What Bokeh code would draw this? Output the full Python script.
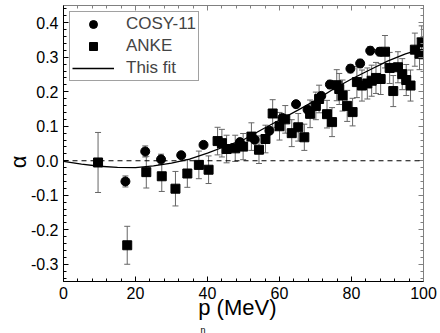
from bokeh.plotting import figure
from bokeh.models import (ColumnDataSource, Whisker, TeeHead, Span, Legend, LegendItem,
                          LinearAxis, SingleIntervalTicker, NumeralTickFormatter, Range1d,
                          CustomLabelingPolicy, Title)
from bokeh.embed import file_html
from bokeh.resources import INLINE

# ---- data ----
cosy_x = [17.2, 22.7, 27.1, 32.7, 38.9, 49.0, 53.1, 57.2, 60.8, 64.6, 67.8, 71.6, 74.0,
          79.7, 82.4, 85.2, 87.8]
cosy_y = [-0.060, 0.027, 0.004, 0.016, 0.046, 0.054, 0.061, 0.087, 0.124, 0.164, 0.148, 0.188,
          0.221, 0.267, 0.282, 0.319, 0.316]
cosy_err = [0.016, 0.016, 0.015, 0.008, 0.010, 0.010, 0.010, 0.010, 0.010, 0.010, 0.010, 0.010,
            0.012, 0.012, 0.012, 0.012, 0.012]

anke_x = [9.6, 17.7, 23.0, 27.3, 31.1, 34.4, 37.6, 40.3, 42.8, 44.0, 45.3, 47.7, 49.9, 52.2,
          54.3, 56.1, 58.1, 60.0, 61.6, 63.4, 65.2, 66.9, 68.5, 70.1, 71.0, 73.2, 74.6, 75.9,
          76.6, 77.5, 78.8, 80.3, 81.5, 82.9, 84.4, 85.6, 86.8, 88.1, 89.3, 90.6, 91.6, 92.9,
          94.1, 95.2, 96.4, 97.6, 98.9, 99.5]
anke_y = [-0.005, -0.245, -0.033, -0.045, -0.081, -0.037, -0.012, -0.026, 0.057, 0.051, 0.034,
          0.036, 0.041, 0.070, 0.032, 0.063, 0.137, 0.100, 0.120, 0.080, 0.097, 0.068, 0.136,
          0.159, 0.179, 0.135, 0.112, 0.219, 0.208, 0.189, 0.159, 0.141, 0.228, 0.218, 0.224,
          0.232, 0.240, 0.237, 0.316, 0.269, 0.202, 0.271, 0.251, 0.234, 0.218, 0.322, 0.310,
          0.343]
anke_err = [0.087, 0.055, 0.046, 0.044, 0.050, 0.040, 0.040, 0.040, 0.040, 0.040, 0.040,
            0.038, 0.038, 0.040, 0.040, 0.040, 0.040, 0.040, 0.040, 0.039, 0.040, 0.038, 0.040,
            0.040, 0.040, 0.040, 0.042, 0.045, 0.045, 0.045, 0.045, 0.040, 0.045, 0.045, 0.045,
            0.045, 0.045, 0.045, 0.047, 0.045, 0.045, 0.045, 0.045, 0.045, 0.045, 0.048, 0.046,
            0.048]

fit_x = [0, 5, 10, 15, 20, 25, 30, 35, 40, 45, 50, 55, 60, 65, 70, 75, 80, 85, 90, 95, 97.5, 100]
fit_y = [-0.002, -0.010, -0.016, -0.019, -0.020, -0.015, -0.007, 0.005, 0.022, 0.042, 0.061,
         0.090, 0.118, 0.146, 0.175, 0.208, 0.237, 0.263, 0.289, 0.310, 0.318, 0.305]

x_tick_step = 20
y_tick_step = 0.1

FONT = "Liberation Sans"
NBSP = "\u00a0"

p = figure(frame_width=360, frame_height=276,
           x_range=Range1d(0, 100), y_range=Range1d(-0.35, 0.45),
           output_backend="svg", toolbar_location=None,
           min_border_left=63, min_border_right=17, min_border_top=5, min_border_bottom=52)
p.xgrid.visible = False
p.ygrid.visible = False
p.outline_line_color = "#808080"
p.background_fill_color = "white"
p.border_fill_color = "white"

# axes
p.xaxis.ticker = SingleIntervalTicker(interval=x_tick_step, num_minor_ticks=5)
p.yaxis.ticker = SingleIntervalTicker(interval=y_tick_step, num_minor_ticks=5)
p.yaxis.formatter = NumeralTickFormatter(format="0.0")
for ax in (p.xaxis[0], p.yaxis[0]):
    ax.axis_line_color = "black"
    ax.major_tick_line_color = "black"
    ax.minor_tick_line_color = "black"
    ax.major_tick_in = 5
    ax.major_tick_out = 0
    ax.minor_tick_in = 3
    ax.minor_tick_out = 0
    ax.major_label_text_font = FONT
    ax.major_label_text_font_size = "16px"
    ax.major_label_text_color = "black"
    ax.axis_label_text_font = FONT
    ax.axis_label_text_font_style = "normal"
    ax.axis_label_text_color = "black"
p.xaxis.major_label_standoff = 5
p.yaxis.major_label_standoff = 5
p.xaxis.axis_label = "p (MeV)" + NBSP * 2
p.xaxis.axis_label_text_font_size = "22px"
p.xaxis.axis_label_standoff = -7
p.yaxis.axis_label = "α" + NBSP * 6
p.yaxis.axis_label_text_font_size = "22px"
p.yaxis.axis_label_standoff = -3

for loc in ("above", "right"):
    ax = LinearAxis(ticker=SingleIntervalTicker(interval=x_tick_step if loc == "above" else y_tick_step,
                                                num_minor_ticks=5))
    ax.axis_line_color = "#808080"
    ax.major_tick_line_color = "#808080"
    ax.minor_tick_line_color = "#808080"
    ax.major_tick_in = 5
    ax.major_tick_out = 0
    ax.minor_tick_in = 3
    ax.minor_tick_out = 0
    ax.major_label_text_font_size = "1px"
    ax.major_label_standoff = 0
    ax.major_label_policy = CustomLabelingPolicy(code="return new Set()")
    p.add_layout(ax, loc)

# subscript eta under the "p" of the x-axis title
p.add_layout(Title(text="η", align="left", offset=137, standoff=0,
                   text_font=FONT, text_font_size="9px", text_font_style="normal",
                   text_color="black"), "below")

# zero line
p.add_layout(Span(location=0, dimension="width", line_color="black",
                  line_width=1, line_dash="5 4"))

# fit curve
fit_r = p.line(fit_x, fit_y, line_color="black", line_width=1.3)

# error bars
cs = ColumnDataSource(dict(x=cosy_x, y=cosy_y,
                           lo=[a - b for a, b in zip(cosy_y, cosy_err)],
                           hi=[a + b for a, b in zip(cosy_y, cosy_err)]))
as_ = ColumnDataSource(dict(x=anke_x, y=anke_y,
                            lo=[a - b for a, b in zip(anke_y, anke_err)],
                            hi=[a + b for a, b in zip(anke_y, anke_err)]))
for src in (as_, cs):
    w = Whisker(base="x", upper="hi", lower="lo", source=src, line_color="#666666",
                line_width=1,
                upper_head=TeeHead(size=6, line_color="#666666", line_width=1),
                lower_head=TeeHead(size=6, line_color="#666666", line_width=1))
    p.add_layout(w)

anke_r = p.scatter("x", "y", source=as_, marker="square", size=9,
                   fill_color="black", line_color="black")
cosy_r = p.scatter("x", "y", source=cs, marker="circle", size=9,
                   fill_color="black", line_color="black")

legend = Legend(items=[LegendItem(label="COSY-11", renderers=[cosy_r]),
                       LegendItem(label="ANKE", renderers=[anke_r]),
                       LegendItem(label="This fit", renderers=[fit_r])],
                location="top_left", margin=6, padding=2, spacing=2,
                glyph_width=42, glyph_height=20, label_height=20, label_standoff=12,
                label_text_font=FONT, label_text_font_size="17px",
                border_line_color="#444444", border_line_width=1,
                background_fill_color="white", background_fill_alpha=1)
p.add_layout(legend, "center")

open("out.html", "w").write(file_html(p, INLINE))
